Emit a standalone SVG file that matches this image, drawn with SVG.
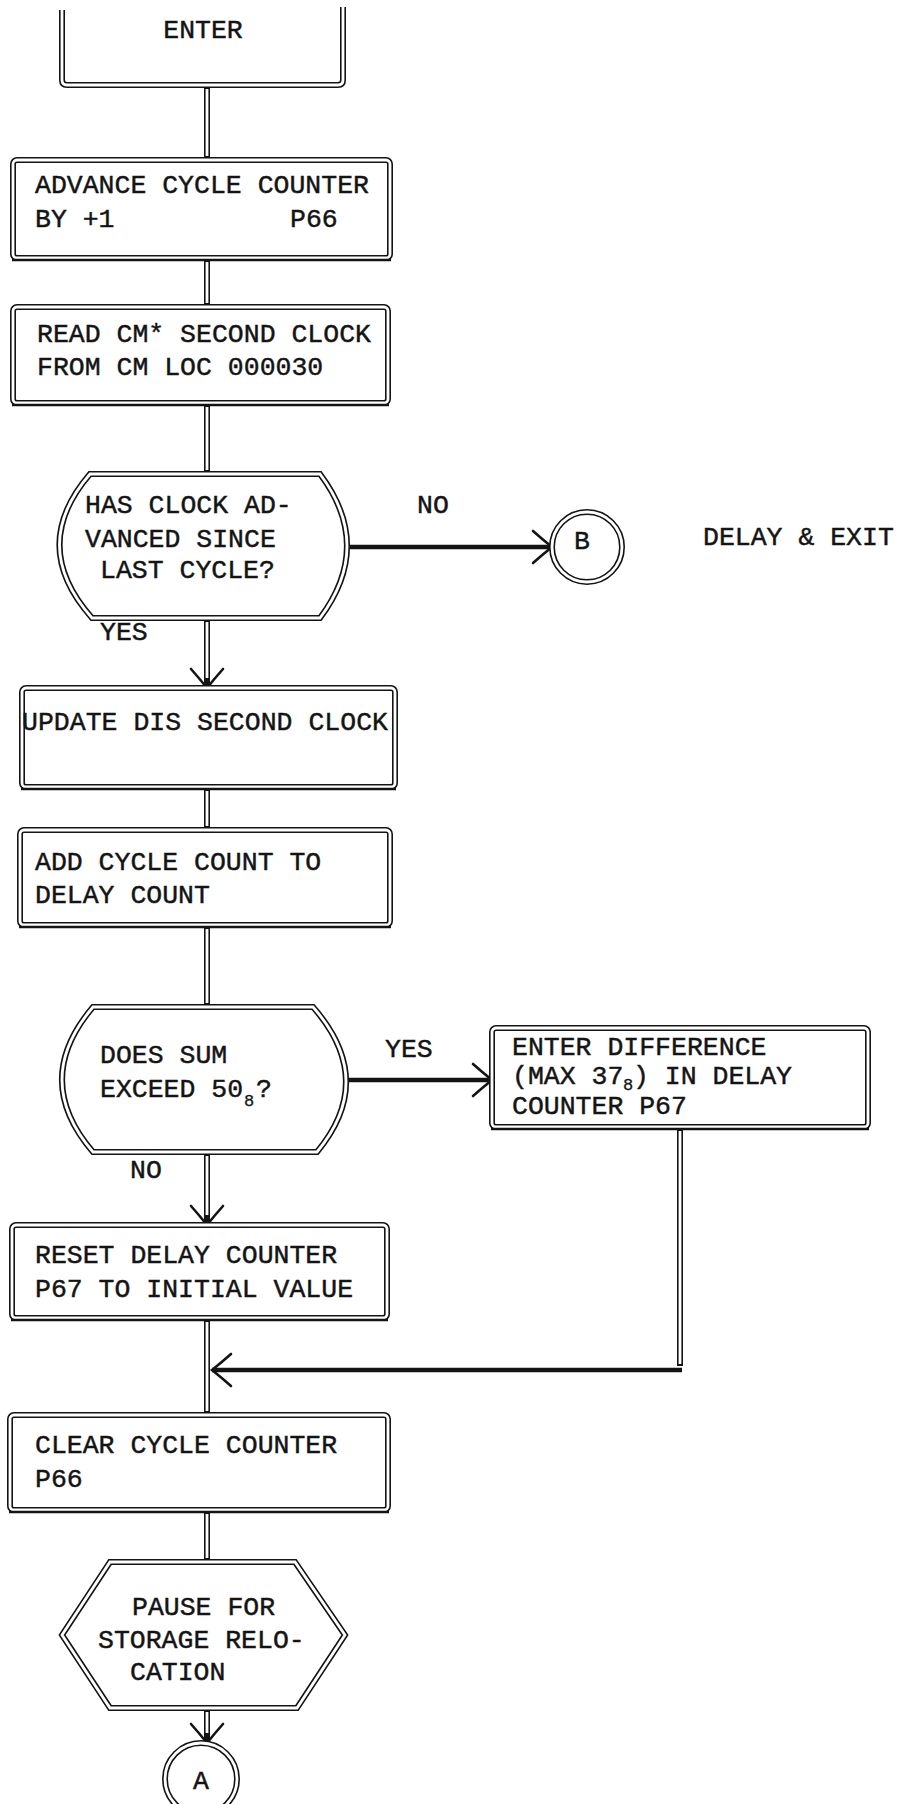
<svg xmlns="http://www.w3.org/2000/svg" width="900" height="1804" viewBox="0 0 900 1804">
<style>
.o{fill:#fff;stroke:#141414;stroke-width:6}
.i{fill:none;stroke:#fff;stroke-width:2.8}
.b{fill:none;stroke:#141414;stroke-width:2.4}
.cv{fill:none;stroke:#141414;stroke-width:6}
.cw{fill:none;stroke:#fff;stroke-width:2.8}
.ch{fill:none;stroke:#141414;stroke-width:4.5}
.t{font-family:"Liberation Mono","Courier New",monospace;font-size:26.5px;fill:#141414;stroke:#141414;stroke-width:0.45}
.s{font-family:"Liberation Mono","Courier New",monospace;font-size:17px;fill:#141414;stroke:#141414;stroke-width:0.35}
</style>
<defs>
<marker id="ah" markerUnits="userSpaceOnUse" markerWidth="30" markerHeight="40" refX="24" refY="20" orient="auto" overflow="visible">
<path d="M5,4 Q14,12 24,20 Q14,28 5,36" fill="none" stroke="#141414" stroke-width="2.6" stroke-linecap="round"/>
</marker>
</defs>
<rect width="900" height="1804" fill="#fff"/>

<g id="connectors">
<path class="cv" d="M207,85 V160 M207,258 V307 M207,403 V474 M207,787 V830 M207,925 V1007 M207,1318 V1415 M207,1510 V1562"/>
<path class="cw" d="M207,89 V156 M207,262 V303 M207,407 V470 M207,791 V826 M207,929 V1003 M207,1322 V1411 M207,1514 V1558"/>
<path class="cv" d="M207,618 V688" marker-end="url(#ah)"/>
<path class="cw" d="M207,622 V678"/>
<path class="cv" d="M207,1152 V1225" marker-end="url(#ah)"/>
<path class="cw" d="M207,1156 V1215"/>
<path class="cv" d="M207,1708 V1743" marker-end="url(#ah)"/>
<path class="cw" d="M207,1712 V1733"/>
<path class="ch" d="M347,547 H552" marker-end="url(#ah)"/>
<path class="ch" d="M345,1080 H492" marker-end="url(#ah)"/>
<path class="cv" d="M680,1127 V1366"/>
<path class="cw" d="M680,1131 V1364"/>
<path class="ch" d="M682,1370 H212" marker-end="url(#ah)"/>
</g>

<g id="enter">
<path class="cv" d="M62,10 V80 Q62,85 67,85 H338 Q343,85 343,80 V7"/>
<path class="cw" d="M62,10 V80 Q62,85 67,85 H338 Q343,85 343,80 V7"/>
<text class="t" x="203" y="38" text-anchor="middle">ENTER</text>
</g>

<g id="advance">
<rect class="o" x="13" y="160" width="377" height="98" rx="4"/>
<rect class="i" x="13" y="160" width="377" height="98" rx="4"/>
<path class="b" d="M12,260 H391"/>
<text class="t" x="35" y="193">ADVANCE CYCLE COUNTER</text>
<text class="t" x="35" y="227">BY +1</text>
<text class="t" x="290" y="227">P66</text>
</g>

<g id="read">
<rect class="o" x="13" y="307" width="375" height="96" rx="4"/>
<rect class="i" x="13" y="307" width="375" height="96" rx="4"/>
<path class="b" d="M12,405 H389"/>
<text class="t" x="37" y="342">READ CM* SECOND CLOCK</text>
<text class="t" x="37" y="375">FROM CM LOC 000030</text>
</g>

<g id="decision1">
<path class="o" d="M90,474 H320 Q374,546 320,618 H92 Q28,546 90,474 Z"/>
<path class="i" d="M90,474 H320 Q374,546 320,618 H92 Q28,546 90,474 Z"/>
<text class="t" x="85" y="513">HAS CLOCK AD-</text>
<text class="t" x="85" y="547">VANCED SINCE</text>
<text class="t" x="100" y="578">LAST CYCLE?</text>
<text class="t" x="417" y="513">NO</text>
<text class="t" x="100" y="640">YES</text>
</g>

<g id="exitB">
<circle class="o" cx="587" cy="547" r="35"/>
<circle class="i" cx="587" cy="547" r="35"/>
<text class="t" x="582" y="549" text-anchor="middle">B</text>
<text class="t" x="703" y="545">DELAY &amp; EXIT</text>
</g>

<g id="update">
<rect class="o" x="22" y="688" width="373" height="99" rx="4"/>
<rect class="i" x="22" y="688" width="373" height="99" rx="4"/>
<path class="b" d="M21,789 H396"/>
<text class="t" x="22" y="730" textLength="366">UPDATE DIS SECOND CLOCK</text>
</g>

<g id="add">
<rect class="o" x="20" y="830" width="370" height="95" rx="4"/>
<rect class="i" x="20" y="830" width="370" height="95" rx="4"/>
<path class="b" d="M19,927 H391"/>
<text class="t" x="35" y="870">ADD CYCLE COUNT TO</text>
<text class="t" x="35" y="903">DELAY COUNT</text>
</g>

<g id="decision2">
<path class="o" d="M93,1007 H313 Q377,1080 317,1152 H93 Q31,1080 93,1007 Z"/>
<path class="i" d="M93,1007 H313 Q377,1080 317,1152 H93 Q31,1080 93,1007 Z"/>
<text class="t" x="100" y="1063">DOES SUM</text>
<text class="t" x="100" y="1097">EXCEED 50</text>
<text class="s" x="244" y="1106">8</text>
<text class="t" x="256" y="1097">?</text>
<text class="t" x="385" y="1057">YES</text>
<text class="t" x="130" y="1178">NO</text>
</g>

<g id="enterdiff">
<rect class="o" x="492" y="1028" width="376" height="99" rx="4"/>
<rect class="i" x="492" y="1028" width="376" height="99" rx="4"/>
<path class="b" d="M491,1129 H869"/>
<text class="t" x="512" y="1055">ENTER DIFFERENCE</text>
<text class="t" x="512" y="1084">(MAX 37</text>
<text class="s" x="623" y="1090">8</text>
<text class="t" x="633" y="1084">) IN DELAY</text>
<text class="t" x="512" y="1114">COUNTER P67</text>
</g>

<g id="reset">
<rect class="o" x="12" y="1225" width="375" height="93" rx="4"/>
<rect class="i" x="12" y="1225" width="375" height="93" rx="4"/>
<path class="b" d="M11,1320 H388"/>
<text class="t" x="35" y="1263">RESET DELAY COUNTER</text>
<text class="t" x="35" y="1297">P67 TO INITIAL VALUE</text>
</g>

<g id="clear">
<rect class="o" x="10" y="1415" width="378" height="95" rx="4"/>
<rect class="i" x="10" y="1415" width="378" height="95" rx="4"/>
<path class="b" d="M9,1512 H389"/>
<text class="t" x="35" y="1453">CLEAR CYCLE COUNTER</text>
<text class="t" x="35" y="1487">P66</text>
</g>

<g id="pause">
<path class="o" d="M110,1562 H295 L345,1635 L297,1708 H110 L62,1635 Z"/>
<path class="i" d="M110,1562 H295 L345,1635 L297,1708 H110 L62,1635 Z"/>
<text class="t" x="132" y="1615">PAUSE FOR</text>
<text class="t" x="98" y="1648">STORAGE RELO-</text>
<text class="t" x="130" y="1680">CATION</text>
</g>

<g id="exitA">
<circle class="o" cx="201" cy="1779" r="36"/>
<circle class="i" cx="201" cy="1779" r="36"/>
<text class="t" x="201" y="1789" text-anchor="middle">A</text>
</g>
</svg>
